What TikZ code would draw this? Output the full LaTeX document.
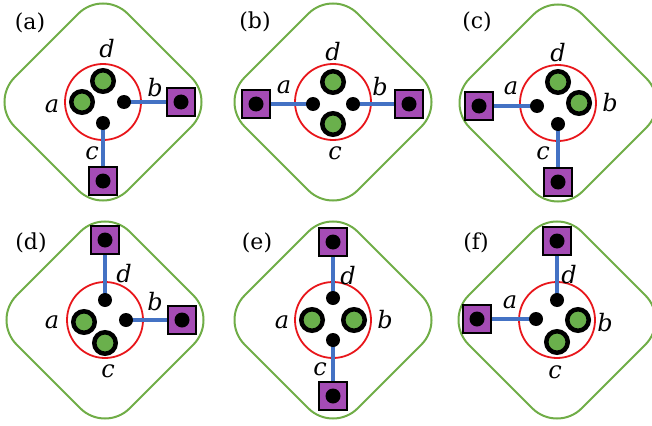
\documentclass[tikz,border=0pt]{standalone}
\usepackage{fontspec}
\setmainfont{DejaVu Serif}
\usetikzlibrary{backgrounds,calc}
\definecolor{frameGreen}{HTML}{70AD47}
\definecolor{qGreen}{HTML}{6AB04C}
\definecolor{ringRed}{HTML}{E8161B}
\definecolor{padPurple}{HTML}{A54CB5}
\definecolor{linkBlue}{HTML}{4472C4}
\pgfdeclarelayer{bg}
\pgfdeclarelayer{mid}
\pgfsetlayers{bg,mid,main}
\tikzset{
  frame/.style={draw=frameGreen, line width=2pt, rounded corners=35pt},
  ring/.style={circle, draw=ringRed, line width=1.8pt, minimum size=76pt, inner sep=0pt},
  qubit/.style={circle, draw=black, line width=4.5pt, fill=qGreen, minimum size=21.5pt, inner sep=0pt},
  dotnode/.style={circle, fill=black, minimum size=14pt, inner sep=0pt},
  pad/.style={rectangle, draw=black, line width=1.5pt, fill=padPurple, minimum size=28pt, inner sep=0pt},
  padcore/.style={circle, fill=black, minimum size=15pt, inner sep=0pt},
  link/.style={draw=linkBlue, line width=4.5pt},
  lbl/.style={font=\fontsize{24}{26}\selectfont\itshape, inner sep=0pt},
  tag/.style={font=\fontsize{22}{24}\selectfont, inner sep=0pt}
}
\newcommand\myframe[1]{%
  \begin{pgfonlayer}{bg}
    \draw[frame] ($(#1)+(0,-113)$) -- ($(#1)+(113,0)$) -- ($(#1)+(0,113)$) -- ($(#1)+(-113,0)$) -- cycle;
  \end{pgfonlayer}}
\begin{document}
\begin{tikzpicture}[x=1pt, y=-1pt]
\useasboundingbox (0,0) rectangle (652,425);

% ---------- (a)
\coordinate (ca) at (103,102);
\myframe{ca}
\begin{pgfonlayer}{bg}\node[ring] (a-ring) at (ca) {};\end{pgfonlayer}
\node[tag] (a-tag) at (30,23) {(a)};
\node[qubit] (a-d) at ($(ca)+(0,-21)$) {};
\node[qubit] (a-a) at ($(ca)+(-21,0)$) {};
\node[dotnode] (a-b) at ($(ca)+(21,0)$) {};
\node[dotnode] (a-c) at ($(ca)+(0,21)$) {};
\node[pad] (a-pb) at ($(ca)+(78,0)$) {};
\node[padcore] (a-pbc) at (a-pb) {};
\node[pad] (a-pc) at ($(ca)+(0,79)$) {};
\node[padcore] (a-pcc) at (a-pc) {};
\begin{pgfonlayer}{mid}
  \draw[link] (a-b.center) -- (a-pbc.center);
  \draw[link] (a-c.center) -- (a-pcc.center);
\end{pgfonlayer}
\node[lbl] (a-ld) at ($(ca)+(4,-53)$) {d};
\node[lbl] (a-la) at ($(ca)+(-51,4)$) {a};
\node[lbl] (a-lb) at ($(ca)+(52,-14)$) {b};
\node[lbl] (a-lc) at ($(ca)+(-11,51)$) {c};

% ---------- (b)
\coordinate (cb) at (333,102);
\myframe{cb}
\begin{pgfonlayer}{bg}\node[ring] (b-ring) at (cb) {};\end{pgfonlayer}
\node[tag] (b-tag) at (255,22) {(b)};
\node[qubit] (b-d) at ($(cb)+(0,-20)$) {};
\node[qubit] (b-c) at ($(cb)+(0,22)$) {};
\node[dotnode] (b-a) at ($(cb)+(-20,2)$) {};
\node[dotnode] (b-b) at ($(cb)+(20,2)$) {};
\node[pad] (b-pa) at ($(cb)+(-77,2)$) {};
\node[padcore] (b-pac) at (b-pa) {};
\node[pad] (b-pb) at ($(cb)+(76,2)$) {};
\node[padcore] (b-pbc) at (b-pb) {};
\begin{pgfonlayer}{mid}
  \draw[link] (b-a.center) -- (b-pac.center);
  \draw[link] (b-b.center) -- (b-pbc.center);
\end{pgfonlayer}
\node[lbl] (b-ld) at ($(cb)+(0,-50)$) {d};
\node[lbl] (b-la) at ($(cb)+(-49,-15)$) {a};
\node[lbl] (b-lb) at ($(cb)+(47,-15)$) {b};
\node[lbl] (b-lc) at ($(cb)+(2,51)$) {c};

% ---------- (c)
\coordinate (cc) at (558,103);
\myframe{cc}
\begin{pgfonlayer}{bg}\node[ring] (c-ring) at (cc) {};\end{pgfonlayer}
\node[tag] (c-tag) at (477,22) {(c)};
\node[qubit] (c-d) at ($(cc)+(0,-21)$) {};
\node[qubit] (c-b) at ($(cc)+(21,0)$) {};
\node[dotnode] (c-a) at ($(cc)+(-21,3)$) {};
\node[dotnode] (c-c) at ($(cc)+(0,21)$) {};
\node[pad] (c-pa) at ($(cc)+(-79,3)$) {};
\node[padcore] (c-pac) at (c-pa) {};
\node[pad] (c-pc) at ($(cc)+(0,79)$) {};
\node[padcore] (c-pcc) at (c-pc) {};
\begin{pgfonlayer}{mid}
  \draw[link] (c-a.center) -- (c-pac.center);
  \draw[link] (c-c.center) -- (c-pcc.center);
\end{pgfonlayer}
\node[lbl] (c-ld) at ($(cc)+(0,-50)$) {d};
\node[lbl] (c-la) at ($(cc)+(-47,-15)$) {a};
\node[lbl] (c-lb) at ($(cc)+(52,0)$) {b};
\node[lbl] (c-lc) at ($(cc)+(-15,50)$) {c};

% ---------- (d)
\coordinate (cd) at (105,320);
\myframe{cd}
\begin{pgfonlayer}{bg}\node[ring] (d-ring) at (cd) {};\end{pgfonlayer}
\node[tag] (d-tag) at (31,243) {(d)};
\node[qubit] (d-a) at ($(cd)+(-21,2)$) {};
\node[qubit] (d-c) at ($(cd)+(0,23)$) {};
\node[dotnode] (d-d) at ($(cd)+(0,-20)$) {};
\node[dotnode] (d-b) at ($(cd)+(21,0)$) {};
\node[pad] (d-pd) at ($(cd)+(0,-80)$) {};
\node[padcore] (d-pdc) at (d-pd) {};
\node[pad] (d-pb) at ($(cd)+(77,0)$) {};
\node[padcore] (d-pbc) at (d-pb) {};
\begin{pgfonlayer}{mid}
  \draw[link] (d-d.center) -- (d-pdc.center);
  \draw[link] (d-b.center) -- (d-pbc.center);
\end{pgfonlayer}
\node[lbl] (d-ld) at ($(cd)+(19,-46)$) {d};
\node[lbl] (d-la) at ($(cd)+(-53,2)$) {a};
\node[lbl] (d-lb) at ($(cd)+(50,-18)$) {b};
\node[lbl] (d-lc) at ($(cd)+(3,51)$) {c};

% ---------- (e)
\coordinate (ce) at (333,320);
\myframe{ce}
\begin{pgfonlayer}{bg}\node[ring] (e-ring) at (ce) {};\end{pgfonlayer}
\node[tag] (e-tag) at (257,243) {(e)};
\node[qubit] (e-a) at ($(ce)+(-21,0)$) {};
\node[qubit] (e-b) at ($(ce)+(21,0)$) {};
\node[dotnode] (e-d) at ($(ce)+(0,-22)$) {};
\node[dotnode] (e-c) at ($(ce)+(0,20)$) {};
\node[pad] (e-pd) at ($(ce)+(0,-78)$) {};
\node[padcore] (e-pdc) at (e-pd) {};
\node[pad] (e-pc) at ($(ce)+(0,76)$) {};
\node[padcore] (e-pcc) at (e-pc) {};
\begin{pgfonlayer}{mid}
  \draw[link] (e-d.center) -- (e-pdc.center);
  \draw[link] (e-c.center) -- (e-pcc.center);
\end{pgfonlayer}
\node[lbl] (e-ld) at ($(ce)+(15,-44)$) {d};
\node[lbl] (e-la) at ($(ce)+(-51,2)$) {a};
\node[lbl] (e-lb) at ($(ce)+(52,0)$) {b};
\node[lbl] (e-lc) at ($(ce)+(-13,49)$) {c};

% ---------- (f)
\coordinate (cf) at (557,320);
\myframe{cf}
\begin{pgfonlayer}{bg}\node[ring] (f-ring) at (cf) {};\end{pgfonlayer}
\node[tag] (f-tag) at (476,243) {(f)};
\node[qubit] (f-b) at ($(cf)+(21,0)$) {};
\node[qubit] (f-c) at ($(cf)+(0,22)$) {};
\node[dotnode] (f-d) at ($(cf)+(0,-20)$) {};
\node[dotnode] (f-a) at ($(cf)+(-21,-1)$) {};
\node[pad] (f-pd) at ($(cf)+(0,-79)$) {};
\node[padcore] (f-pdc) at (f-pd) {};
\node[pad] (f-pa) at ($(cf)+(-80,-1)$) {};
\node[padcore] (f-pac) at (f-pa) {};
\begin{pgfonlayer}{mid}
  \draw[link] (f-d.center) -- (f-pdc.center);
  \draw[link] (f-a.center) -- (f-pac.center);
\end{pgfonlayer}
\node[lbl] (f-ld) at ($(cf)+(12,-45)$) {d};
\node[lbl] (f-la) at ($(cf)+(-47,-18)$) {a};
\node[lbl] (f-lb) at ($(cf)+(48,3)$) {b};
\node[lbl] (f-lc) at ($(cf)+(-2,52)$) {c};
\end{tikzpicture}
\end{document}
